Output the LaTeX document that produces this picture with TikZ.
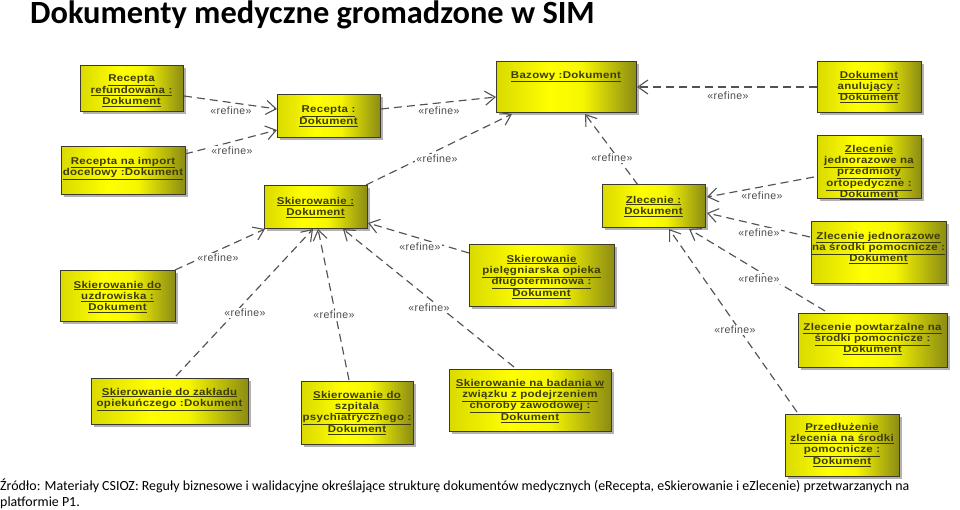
\documentclass[tikz,border=0pt]{standalone}
\usepackage{fontspec}
\setmainfont{Carlito}
\newfontfamily\docfont[LetterSpace=3,FakeStretch=1.16]{Liberation Sans}
\newfontfamily\tagfont[LetterSpace=4]{Liberation Sans}
\usetikzlibrary{arrows.meta,shadows,calc}
\definecolor{docleft}{HTML}{DADA00}
\definecolor{docmid}{HTML}{FFFF00}
\definecolor{docright}{HTML}{8C8C14}
\definecolor{docink}{HTML}{3C3C08}
\pgfdeclarehorizontalshading{docshade}{100bp}{
  color(0bp)=(docleft); color(25bp)=(docleft); color(44bp)=(docmid); color(56bp)=(docmid!92!docright);
  color(75bp)=(docright); color(100bp)=(docright)}
\tikzset{
  doc/.style={draw=black!75!olive,line width=1pt,inner sep=0pt,outer sep=0pt,
    shading=docshade,
    drop shadow={shadow xshift=2.5pt,shadow yshift=-2.5pt,fill=black,opacity=.3},
    text=docink,font=\docfont\bfseries\fontsize{9.9}{11.4}\selectfont},
  refdash/.style={draw=black!68,line width=1.15pt,dash pattern=on 8pt off 5pt,
    -{Straight Barb[length=10pt,width=14pt,line width=1.1pt]}},
  reflabel/.style={fill=white,inner sep=1pt,text=black!70,font=\tagfont\fontsize{10.6}{12}\selectfont},
  heading/.style={anchor=west,inner sep=0pt,font=\bfseries\fontsize{32.4}{34}\selectfont,text=black},
  source/.style={anchor=north west,inner sep=0pt,align=flush left,text width=925pt,font=\fontsize{13.92}{16.4}\selectfont,text=black}
}
% name, x1, y1, x2, y2, top pad, lines
\newcommand{\docbox}[7]{%
  \pgfmathsetmacro{\bw}{#4-#2}\pgfmathsetmacro{\bh}{#5-#3}%
  \node[doc] (#1) at ({(#2+#4)/2},{(#3+#5)/2})
   {\parbox[c][\bh pt][t]{\bw pt}{\lineskiplimit=-20pt\centering\vspace*{#6pt}#7}};}
\newcommand{\ul}[1]{\underline{#1}}
\newcommand{\conn}[6]{\draw[refdash] ([shift={(#2,#3)}]#1.north west) -- ([shift={(#5,#6)}]#4.north west);}
\begin{document}
\begin{tikzpicture}[x=1pt,y=-1pt]
\useasboundingbox (0,0) rectangle (960,510);
\node[heading] (title) at (30,15) {Dokumenty medyczne gromadzone w SIM};

\docbox{refund}{80}{66}{183}{112}{9}{\ul{Recepta}\\\ul{refundowana :}\\\ul{Dokument}}
\docbox{import}{61}{147}{185}{195}{10}{\ul{Recepta na import}\\\ul{docelowy :Dokument}}
\docbox{recepta}{277}{95}{380}{138}{11}{\ul{Recepta :}\\\ul{Dokument}}
\docbox{bazowy}{496}{62}{636}{113}{9}{\ul{Bazowy :Dokument}}
\docbox{anul}{817}{62}{921}{113}{9}{\ul{Dokument}\\\ul{anulujący :}\\\ul{Dokument}}
\docbox{przedm}{817}{136}{921}{199}{9}{\ul{Zlecenie}\\\ul{jednorazowe na}\\\ul{przedmioty}\\\ul{ortopedyczne :}\\\ul{Dokument}}
\docbox{zlecenie}{602}{185}{705}{228}{11}{\ul{Zlecenie :}\\\ul{Dokument}}
\docbox{jedn}{811}{222}{946}{284}{10}{\ul{Zlecenie jednorazowe}\\\ul{na środki pomocnicze :}\\\ul{Dokument}}
\docbox{skier}{264}{186}{367}{229}{11}{\ul{Skierowanie :}\\\ul{Dokument}}
\docbox{piel}{469}{245}{614}{306}{10}{\ul{Skierowanie}\\\ul{pielęgniarska opieka}\\\ul{długoterminowa :}\\\ul{Dokument}}
\docbox{uzdr}{60}{271}{175}{321}{10}{\ul{Skierowanie do}\\\ul{uzdrowiska :}\\\ul{Dokument}}
\docbox{zaklad}{91}{378}{248}{424}{10}{\ul{Skierowanie do zakładu}\\\ul{opiekuńczego :Dokument}}
\docbox{szpital}{301}{381}{413}{444}{10}{\ul{Skierowanie do}\\\ul{szpitala}\\\ul{psychiatrycznego :}\\\ul{Dokument}}
\docbox{badania}{449}{369}{611}{431}{10}{\ul{Skierowanie na badania w}\\\ul{związku z podejrzeniem}\\\ul{choroby zawodowej :}\\\ul{Dokument}}
\docbox{powt}{798}{313}{947}{367}{10}{\ul{Zlecenie powtarzalne na}\\\ul{środki pomocnicze :}\\\ul{Dokument}}
\docbox{przedl}{785}{414}{899}{476}{9}{\ul{Przedłużenie}\\\ul{zlecenia na środki}\\\ul{pomocnicze :}\\\ul{Dokument}}

\conn{refund}{104}{30}{recepta}{0}{14}
\conn{import}{124}{7}{recepta}{0}{35}
\conn{recepta}{104}{14}{bazowy}{0}{35}
\conn{skier}{102}{-1}{bazowy}{16}{52}
\conn{anul}{0}{25}{bazowy}{141}{25}
\conn{zlecenie}{36}{0}{bazowy}{89}{52}
\conn{przedm}{-3}{41}{zlecenie}{105}{12}
\conn{jedn}{-1}{15}{zlecenie}{105}{28}
\conn{powt}{27}{-2}{zlecenie}{87}{44}
\conn{przedl}{12}{-2}{zlecenie}{67}{44}
\conn{uzdr}{115}{-1}{skier}{1}{43}
\conn{zaklad}{85}{-2}{skier}{49}{43}
\conn{szpital}{48}{-1}{skier}{54}{43}
\conn{badania}{65}{-2}{skier}{79}{43}
\conn{piel}{0}{8}{skier}{104}{37}

\node[reflabel] (l1) at (231,111) {«refine»};
\node[reflabel] (l2) at (232,151) {«refine»};
\node[reflabel] (l3) at (439,111) {«refine»};
\node[reflabel] (l4) at (437,159) {«refine»};
\node[reflabel] (l5) at (728,96) {«refine»};
\node[reflabel] (l6) at (612,158) {«refine»};
\node[reflabel] (l7) at (762,196) {«refine»};
\node[reflabel] (l8) at (759,233) {«refine»};
\node[reflabel] (l9) at (759,279) {«refine»};
\node[reflabel] (l10) at (735,330) {«refine»};
\node[reflabel] (l11) at (420,247) {«refine»};
\node[reflabel] (l12) at (218,258) {«refine»};
\node[reflabel] (l13) at (245,313) {«refine»};
\node[reflabel] (l14) at (334,315) {«refine»};
\node[reflabel] (l15) at (429,308) {«refine»};

\node[source] (src) at (0,478.5) {Źródło: Materiały CSIOZ: Reguły biznesowe i walidacyjne określające strukturę dokumentów medycznych (eRecepta, eSkierowanie i eZlecenie) przetwarzanych na platformie P1.};
\end{tikzpicture}
\end{document}
